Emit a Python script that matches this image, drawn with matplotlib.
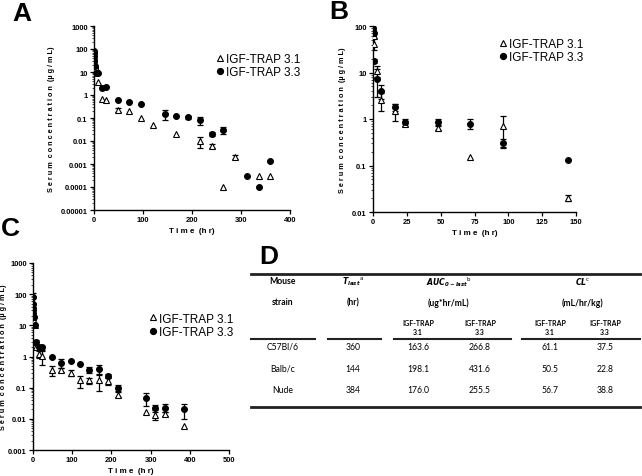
import numpy as np
import matplotlib.pyplot as plt
from matplotlib.lines import Line2D

plt.rcParams['font.family'] = ['Liberation Sans', 'DejaVu Sans']

# ---- panel A (C57Bl/6) ----
a_t31 = [0.083, 0.25, 0.5, 1, 2, 4, 8, 16, 24, 48, 72, 96, 120, 168, 216, 240, 264, 288, 336, 360]
a_y31 = [60, 50, 40, 30, 20, 15, 3.6, 0.7, 0.62, 0.22, 0.2, 0.1, 0.05, 0.02, 0.01, 0.006, 0.0001, 0.002, 0.0003, 0.0003]
a_e31 = [0, 0, 0, 0, 0, 0, 0, 0, 0, 0.04, 0, 0, 0, 0, 0.005, 0.0012, 0, 0.0004, 0, 0]
a_t33 = [0.083, 0.25, 0.5, 1, 2, 4, 8, 16, 24, 48, 72, 96, 144, 168, 192, 216, 240, 264, 312, 336, 360]
a_y33 = [85, 70, 50, 31, 18, 9, 9, 2.0, 2.3, 0.6, 0.5, 0.42, 0.15, 0.12, 0.11, 0.08, 0.021, 0.03, 0.0003, 0.0001, 0.0013]
a_e33 = [0, 0, 0, 0, 0, 0, 0, 0, 0, 0, 0, 0, 0.07, 0, 0.015, 0.03, 0.004, 0.01, 0, 0, 0]

# ---- panel B (Balb/c) ----
b_t31 = [0.083, 0.25, 0.5, 1, 3, 6, 16, 24, 48, 72, 96, 144]
b_y31 = [80, 70, 60, 42, 11, 2.6, 1.5, 0.8, 0.63, 0.15, 0.7, 0.02]
b_e31 = [0, 0, 0, 12, 3, 1.1, 0.6, 0.08, 0.06, 0, 0.45, 0.003]
b_t33 = [0.083, 0.25, 0.5, 1, 3, 6, 16, 24, 48, 72, 96, 144]
b_y33 = [90, 80, 70, 18, 7.4, 4.0, 1.8, 0.88, 0.88, 0.8, 0.31, 0.13]
b_e33 = [0, 0, 0, 2, 4.5, 1.3, 0.35, 0.1, 0.12, 0.2, 0.07, 0]

# ---- panel C (Nude) ----
c_t31 = [0.083, 0.25, 0.5, 1, 2, 4, 8, 16, 24, 48, 72, 96, 120, 144, 168, 192, 216, 288, 312, 336, 384]
c_y31 = [40, 35, 25, 18, 14, 10, 2.0, 1.2, 1.05, 0.37, 0.37, 0.3, 0.17, 0.17, 0.17, 0.16, 0.06, 0.016, 0.013, 0.014, 0.006]
c_e31 = [0, 0, 0, 0, 0, 0, 0.3, 0.3, 0.5, 0.14, 0.06, 0.07, 0.07, 0.04, 0.09, 0.04, 0.01, 0, 0.004, 0.002, 0]
c_t33 = [0.083, 0.25, 0.5, 1, 2, 4, 8, 16, 24, 48, 72, 96, 120, 144, 168, 192, 216, 288, 312, 336, 384]
c_y33 = [80, 50, 35, 25, 18, 10, 3.0, 1.95, 1.95, 1.0, 0.62, 0.72, 0.58, 0.38, 0.4, 0.24, 0.1, 0.045, 0.023, 0.023, 0.02]
c_e33 = [30, 0, 0, 0, 0, 0, 0.5, 0.2, 0.3, 0, 0.2, 0, 0, 0.08, 0.12, 0.04, 0.02, 0.02, 0.004, 0.007, 0.01]

# ---- table D ----
strains = ['C57Bl/6', 'Balb/c', 'Nude']
t_last = ['360', '144', '384']
auc_31 = ['163.6', '198.1', '176.0']
auc_33 = ['266.8', '431.6', '255.5']
cl_31 = ['61.1', '50.5', '56.7']
cl_33 = ['37.5', '22.8', '38.8']

W, H = 642, 477
fig = plt.figure(figsize=(W / 100, H / 100), dpi=100)


def px(x0, y0, x1, y1):
    # pixel box -> figure fraction
    return [x0 / W, 1 - y1 / H, (x1 - x0) / W, (y1 - y0) / H]


def draw_series(ax, t, y, e, marker, face):
    t = np.array(t); y = np.array(y); e = np.array(e, dtype=float)
    m = e > 0
    lo = np.minimum(e[m], y[m] * 0.9)
    ax.errorbar(t[m], y[m], yerr=[lo, e[m]], fmt='none', ecolor='black',
                elinewidth=0.9, capsize=2.2, capthick=0.9, zorder=2)
    ax.plot(t, y, linestyle='none', marker=marker, ms=4.2 if marker == 'o' else 4.6,
            mfc=face, mec='black', mew=0.8, zorder=3)


def style_axis(ax, xlim, xticks, ylim, yticks, ylabels, ylab_x):
    ax.set_yscale('log')
    ax.set_xlim(*xlim)
    ax.set_ylim(*ylim)
    ax.set_xticks(xticks)
    ax.set_xticklabels([str(v) for v in xticks])
    ax.set_yticks(yticks)
    ax.set_yticklabels(ylabels)
    for s in ['top', 'right']:
        ax.spines[s].set_visible(False)
    for s in ['left', 'bottom']:
        ax.spines[s].set_linewidth(1.0)
    ax.tick_params(axis='both', which='major', length=3, width=0.9, labelsize=5.4, pad=1.5)
    ax.tick_params(axis='y', which='minor', length=1.5, width=0.5)
    for lab in ax.get_xticklabels() + ax.get_yticklabels():
        lab.set_fontweight('bold')
    ax.set_xlabel('T i m e  (h r)', fontsize=5.8, fontweight='bold', labelpad=3)
    ax.set_ylabel('S e r u m  c o n c e n t r a t i o n  (µ g / m L)', fontsize=5.2,
                  fontweight='bold')
    ax.yaxis.set_label_coords(ylab_x, 0.5)


def add_legend(ax, loc_xy):
    h = [Line2D([], [], ls='none', marker='^', ms=4.6, mfc='white', mec='black', mew=0.8),
         Line2D([], [], ls='none', marker='o', ms=4.2, mfc='black', mec='black')]
    ax.legend(h, ['IGF-TRAP 3.1', 'IGF-TRAP 3.3'], loc='upper left', bbox_to_anchor=loc_xy,
              frameon=False, fontsize=8.5, handlelength=0.6, handletextpad=0.2,
              labelspacing=0.1, borderaxespad=0)


# panel A
axA = fig.add_axes(px(94, 27, 290, 211))
draw_series(axA, a_t31, a_y31, a_e31, '^', 'white')
draw_series(axA, a_t33, a_y33, a_e33, 'o', 'black')
style_axis(axA, (0, 400), [0, 100, 200, 300, 400], (1e-5, 1e3),
           [1e-5, 1e-4, 1e-3, 1e-2, 1e-1, 1, 10, 100, 1000],
           ['0.00001', '0.0001', '0.001', '0.01', '0.1', '1', '10', '100', '1000'], -0.2)
add_legend(axA, (0.6, 0.88))

# panel B
axB = fig.add_axes(px(373, 27, 576, 213))
draw_series(axB, b_t31, b_y31, b_e31, '^', 'white')
draw_series(axB, b_t33, b_y33, b_e33, 'o', 'black')
style_axis(axB, (0, 150), [0, 25, 50, 75, 100, 125, 150], (0.01, 100),
           [0.01, 0.1, 1, 10, 100], ['0.01', '0.1', '1', '10', '100'], -0.135)
add_legend(axB, (0.6, 0.96))

# panel C
axC = fig.add_axes(px(33, 264, 229, 451))
draw_series(axC, c_t31, c_y31, c_e31, '^', 'white')
draw_series(axC, c_t33, c_y33, c_e33, 'o', 'black')
style_axis(axC, (0, 500), [0, 100, 200, 300, 400, 500], (1e-3, 1e3),
           [1e-3, 1e-2, 1e-1, 1, 10, 100, 1000],
           ['0.001', '0.01', '0.1', '1', '10', '100', '1000'], -0.135)
add_legend(axC, (0.57, 0.76))

# panel letters
for letter, (x, y) in zip('ABCD', [(22, 14), (339, 12), (10, 229), (269, 257)]):
    fig.text(x / W, 1 - y / H, letter, fontsize=19, fontweight='bold', ha='center', va='center')

# table D
tf = ['Lato', 'DejaVu Sans']


def ttext(x, y, s, **kw):
    kw.setdefault('fontsize', 6.2)
    fig.text(x / W, 1 - y / H, s, ha='center', va='center', family=tf, **kw)


def hline(x0, x1, y, lw):
    fig.add_artist(Line2D([x0 / W, x1 / W], [1 - y / H, 1 - y / H], color='#222222', lw=lw))


hline(251, 640, 275, 2.0)
hline(251, 315, 340, 1.5)
hline(328, 381, 340, 1.5)
hline(394, 511, 340, 1.5)
hline(522, 640, 340, 1.5)
hline(251, 640, 408, 2.0)

ttext(283, 282, 'Mouse', fontweight='bold')
ttext(283, 303, 'strain', fontweight='bold')
ttext(353, 282, r'$\mathbfit{T}_{\mathbfit{last}}$$^{\rm a}$', fontsize=5.6)
ttext(353, 303, '(hr)', fontweight='bold')
ttext(449, 282, r'$\mathbfit{AUC}_{\mathbfit{0-last}}$$^{\rm b}$', fontsize=5.6)
ttext(449, 303, '(ug*hr/mL)', fontweight='bold')
ttext(583, 282, r'$\mathbfit{CL}$$^{\rm c}$', fontsize=5.6)
ttext(583, 303, '(mL/hr/kg)', fontweight='bold')
for x, sub in zip([418, 480, 550, 605], ['3.1', '3.3', '3.1', '3.3']):
    ttext(x, 323, 'IGF-TRAP', fontsize=5.0, fontweight='bold')
    ttext(x, 333, sub, fontsize=5.0, fontweight='bold')

row_y = [347, 369, 391]
for i, y in enumerate(row_y):
    ttext(283, y, strains[i])
    ttext(353, y, t_last[i])
    ttext(418, y, auc_31[i])
    ttext(480, y, auc_33[i])
    ttext(550, y, cl_31[i])
    ttext(605, y, cl_33[i])

fig.savefig('out.png', dpi=100)
